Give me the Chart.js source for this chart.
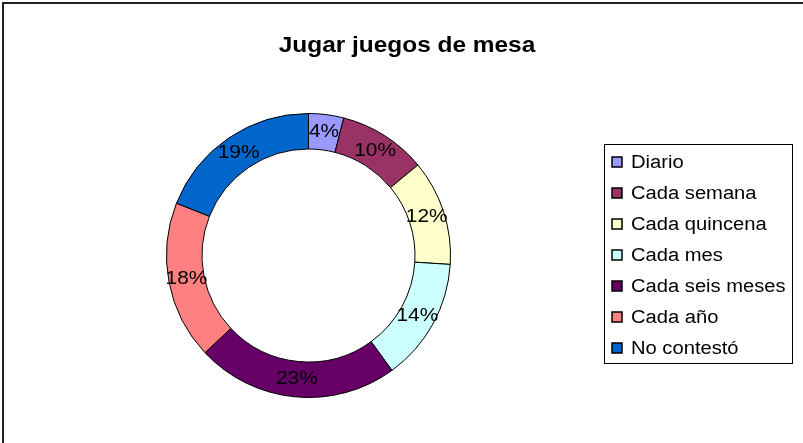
<!DOCTYPE html>
<html>
<head>
<meta charset="utf-8">
<script src="https://cdn.jsdelivr.net/npm/chart.js@4"></script>
<style>
  html, body { margin: 0; padding: 0; background: #fff; }
  #wrap { width: 803px; height: 443px; }
</style>
</head>
<body>
<div id="wrap"><canvas id="chart" width="803" height="443"></canvas></div>
<script>
const chartTitle = 'Jugar juegos de mesa';
const categories = ['Diario', 'Cada semana', 'Cada quincena', 'Cada mes', 'Cada seis meses', 'Cada año', 'No contestó'];
const percentages = [4, 10, 12, 14, 23, 18, 19];
const sliceColors = ['#9999FF', '#993366', '#FFFFCC', '#CCFFFF', '#660066', '#FF8080', '#0066CC'];

const FONT = '"Liberation Sans", Arial, sans-serif';

// the original picture is a bit wider than tall, so its text looks stretched
function wideText(ctx, text, x, y, sx) {
  ctx.save();
  ctx.translate(x, y);
  ctx.scale(sx, 1);
  ctx.fillText(text, 0, 0);
  ctx.restore();
}

// title, frame lines, value labels and the boxed legend on the right
const decorations = {
  id: 'decorations',
  beforeDraw(chart) {
    const ctx = chart.ctx;
    ctx.save();
    ctx.strokeStyle = '#222';
    ctx.lineWidth = 2;
    ctx.beginPath();
    ctx.moveTo(3, chart.height);
    ctx.lineTo(3, 3);
    ctx.lineTo(chart.width, 3);
    ctx.stroke();

    ctx.fillStyle = '#000';
    ctx.font = 'bold 22px ' + FONT;
    ctx.textAlign = 'center';
    ctx.textBaseline = 'alphabetic';
    wideText(ctx, chartTitle, 407, 52, 1.11);
    ctx.restore();
  },
  afterDatasetsDraw(chart) {
    const ctx = chart.ctx;
    const meta = chart.getDatasetMeta(0);
    const values = chart.data.datasets[0].data;
    ctx.save();
    ctx.fillStyle = '#000';
    ctx.font = '19px ' + FONT;
    ctx.textAlign = 'center';
    ctx.textBaseline = 'middle';
    meta.data.forEach((arc, i) => {
      const p = arc.tooltipPosition();
      wideText(ctx, values[i] + '%', p.x, p.y, 1.1);
    });

    // legend
    const box = { x: 604.5, y: 144.5, w: 188, h: 219 };
    ctx.strokeStyle = '#000';
    ctx.lineWidth = 1;
    ctx.strokeRect(box.x, box.y, box.w, box.h);
    ctx.font = '18px ' + FONT;
    ctx.textAlign = 'left';
    chart.data.labels.forEach((label, i) => {
      const cy = 162 + i * 31;
      ctx.fillStyle = chart.data.datasets[0].backgroundColor[i];
      ctx.fillRect(612, cy - 5, 10, 10);
      ctx.strokeStyle = '#000';
      ctx.lineWidth = 1.5;
      ctx.strokeRect(612, cy - 5, 10, 10);
      ctx.fillStyle = '#000';
      wideText(ctx, label, 631, cy + 1, 1.12);
    });
    ctx.restore();
  }
};

new Chart(document.getElementById('chart').getContext('2d'), {
  type: 'doughnut',
  data: {
    labels: categories,
    datasets: [{
      data: percentages,
      backgroundColor: sliceColors,
      borderColor: '#000',
      borderWidth: 1
    }]
  },
  options: {
    responsive: false,
    animation: false,
    cutout: '75%',
    layout: { padding: { left: 166, right: 352, top: 113, bottom: 45 } },
    plugins: {
      legend: { display: false },
      title: { display: false },
      tooltip: { enabled: false }
    }
  },
  plugins: [decorations]
});
</script>
</body>
</html>
